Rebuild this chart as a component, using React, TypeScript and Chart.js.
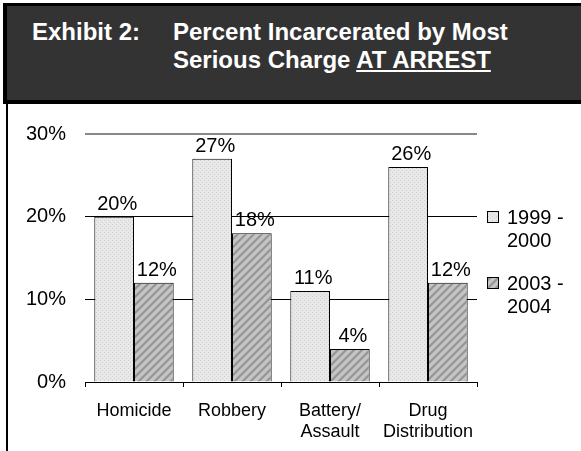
import React, { useEffect, useRef } from "react";
import { Chart, registerables } from "chart.js";

Chart.register(...registerables);

const categories: string[][] = [["Homicide"], ["Robbery"], ["Battery/", "Assault"], ["Drug", "Distribution"]];
const series1Label = ["1999 -", "2000"];
const series2Label = ["2003 -", "2004"];
const series1 = [20, 27, 11, 26];
const series2 = [12, 18, 4, 12];
const yMin = 0;
const yMax = 30;
const yStep = 10;

const FAMILY = '"Liberation Sans", Arial, Helvetica, sans-serif';

function makeDots(ctx: CanvasRenderingContext2D) {
  const c = document.createElement("canvas");
  c.width = 4;
  c.height = 4;
  const g = c.getContext("2d")!;
  g.fillStyle = "#e8e8e8";
  g.fillRect(0, 0, 4, 4);
  g.fillStyle = "#cfcfcf";
  g.fillRect(0, 0, 1, 1);
  g.fillRect(2, 2, 1, 1);
  return ctx.createPattern(c, "repeat")!;
}

function makeHatch(ctx: CanvasRenderingContext2D) {
  const s = 8;
  const c = document.createElement("canvas");
  c.width = s;
  c.height = s;
  const g = c.getContext("2d")!;
  g.fillStyle = "#c4c4c4";
  g.fillRect(0, 0, s, s);
  g.strokeStyle = "#959595";
  g.lineWidth = 2.2;
  g.beginPath();
  g.moveTo(-2, s + 2);
  g.lineTo(s + 2, -2);
  g.moveTo(-2, 2);
  g.lineTo(2, -2);
  g.moveTo(s - 2, s + 2);
  g.lineTo(s + 2, s - 2);
  g.stroke();
  return ctx.createPattern(c, "repeat")!;
}

const valueLabels = {
  id: "valueLabels",
  afterDatasetsDraw(chart: any) {
    const ctx = chart.ctx as CanvasRenderingContext2D;
    ctx.save();
    ctx.font = `20px ${FAMILY}`;
    ctx.fillStyle = "#000";
    ctx.textAlign = "center";
    ctx.textBaseline = "alphabetic";
    chart.data.datasets.forEach((ds: any, i: number) => {
      chart.getDatasetMeta(i).data.forEach((bar: any, j: number) => {
        ctx.fillText(ds.data[j] + "%", bar.x + 3, bar.y - 7);
      });
    });
    ctx.restore();
  },
};

const sideLegend = {
  id: "sideLegend",
  afterDraw(chart: any) {
    const ctx = chart.ctx as CanvasRenderingContext2D;
    const area = chart.chartArea;
    const labels = [series1Label, series2Label];
    const x0 = area.right + 10;
    ctx.save();
    chart.data.datasets.forEach((ds: any, i: number) => {
      const top = area.top + 77 + i * 66;
      ctx.fillStyle = ds.backgroundColor;
      ctx.fillRect(x0, top, 12, 12);
      ctx.strokeStyle = "#000";
      ctx.lineWidth = 1;
      ctx.strokeRect(x0 + 0.5, top + 0.5, 11, 11);
      ctx.font = `20px ${FAMILY}`;
      ctx.fillStyle = "#000";
      ctx.textAlign = "left";
      ctx.textBaseline = "middle";
      labels[i].forEach((line, k) => {
        ctx.fillText(line, x0 + 20, top + 7 + k * 23);
      });
    });
    ctx.restore();
  },
};

export default function App() {
  const ref = useRef<HTMLCanvasElement | null>(null);

  useEffect(() => {
    const canvas = ref.current!;
    const ctx = canvas.getContext("2d")!;
    const dots = makeDots(ctx);
    const hatch = makeHatch(ctx);
    const chart = new Chart(canvas, {
      type: "bar",
      data: {
        labels: categories as any,
        datasets: [
          {
            label: series1Label.join(" "),
            data: series1,
            backgroundColor: dots as any,
            borderColor: "#000",
            borderWidth: 1,
            categoryPercentage: 0.81,
            barPercentage: 1,
          },
          {
            label: series2Label.join(" "),
            data: series2,
            backgroundColor: hatch as any,
            borderColor: "#000",
            borderWidth: 1,
            categoryPercentage: 0.81,
            barPercentage: 1,
          },
        ],
      },
      options: {
        animation: false,
        responsive: false,
        maintainAspectRatio: false,
        devicePixelRatio: 1,
        layout: { padding: { left: 0, right: 104, top: 134, bottom: 0 } },
        plugins: {
          legend: { display: false },
          tooltip: { enabled: false },
          title: { display: false },
        },
        scales: {
          x: {
            offset: true,
            grid: {
              offset: true,
              drawOnChartArea: false,
              drawTicks: true,
              tickLength: 5,
              color: "#000",
            },
            border: { display: true, color: "#000", width: 1 },
            ticks: {
              color: "#000",
              font: { family: FAMILY, size: 18 },
              padding: 13,
              maxRotation: 0,
              autoSkip: false,
            },
            afterFit: (s: any) => {
              s.height = 69;
            },
          },
          y: {
            min: yMin,
            max: yMax,
            ticks: {
              stepSize: yStep,
              callback: (v: any) => v + "%",
              color: "#000",
              font: { family: FAMILY, size: 20 },
              padding: 19,
            },
            grid: {
              drawTicks: false,
              color: (c: any) => (c.tick && c.tick.value === yMax ? "#888" : "#000"),
              lineWidth: (c: any) => (c.tick && c.tick.value === yMax ? 2 : 1),
            },
            border: { display: false },
            afterFit: (s: any) => {
              s.width = 85;
            },
          },
        },
      },
      plugins: [valueLabels, sideLegend],
    });
    return () => chart.destroy();
  }, []);

  const titleStyle: React.CSSProperties = {
    position: "absolute",
    color: "#fff",
    fontFamily: FAMILY,
    fontWeight: "bold",
    fontSize: 24,
    lineHeight: "28px",
    whiteSpace: "nowrap",
  };

  return (
    <div style={{ position: "fixed", left: 0, top: 0, width: 581, height: 451, background: "#fff", overflow: "hidden" }}>
      <canvas ref={ref} width={581} height={451} style={{ position: "absolute", left: 0, top: 0, width: 581, height: 451 }} />
      <div
        style={{
          position: "absolute",
          left: 3,
          top: 3,
          width: 578,
          height: 101,
          boxSizing: "border-box",
          background: "#333333",
          borderTop: "3px solid #000",
          borderLeft: "4px solid #000",
          borderBottom: "4px solid #000",
        }}
      />
      <div style={{ ...titleStyle, left: 32, top: 18 }}>Exhibit 2:</div>
      <div style={{ ...titleStyle, left: 173, top: 18 }}>
        Percent Incarcerated by Most
        <br />
        Serious Charge <span style={{ textDecoration: "underline" }}>AT ARREST</span>
      </div>
      <div style={{ position: "absolute", left: 6, top: 104, width: 2, height: 347, background: "#000" }} />
    </div>
  );
}
